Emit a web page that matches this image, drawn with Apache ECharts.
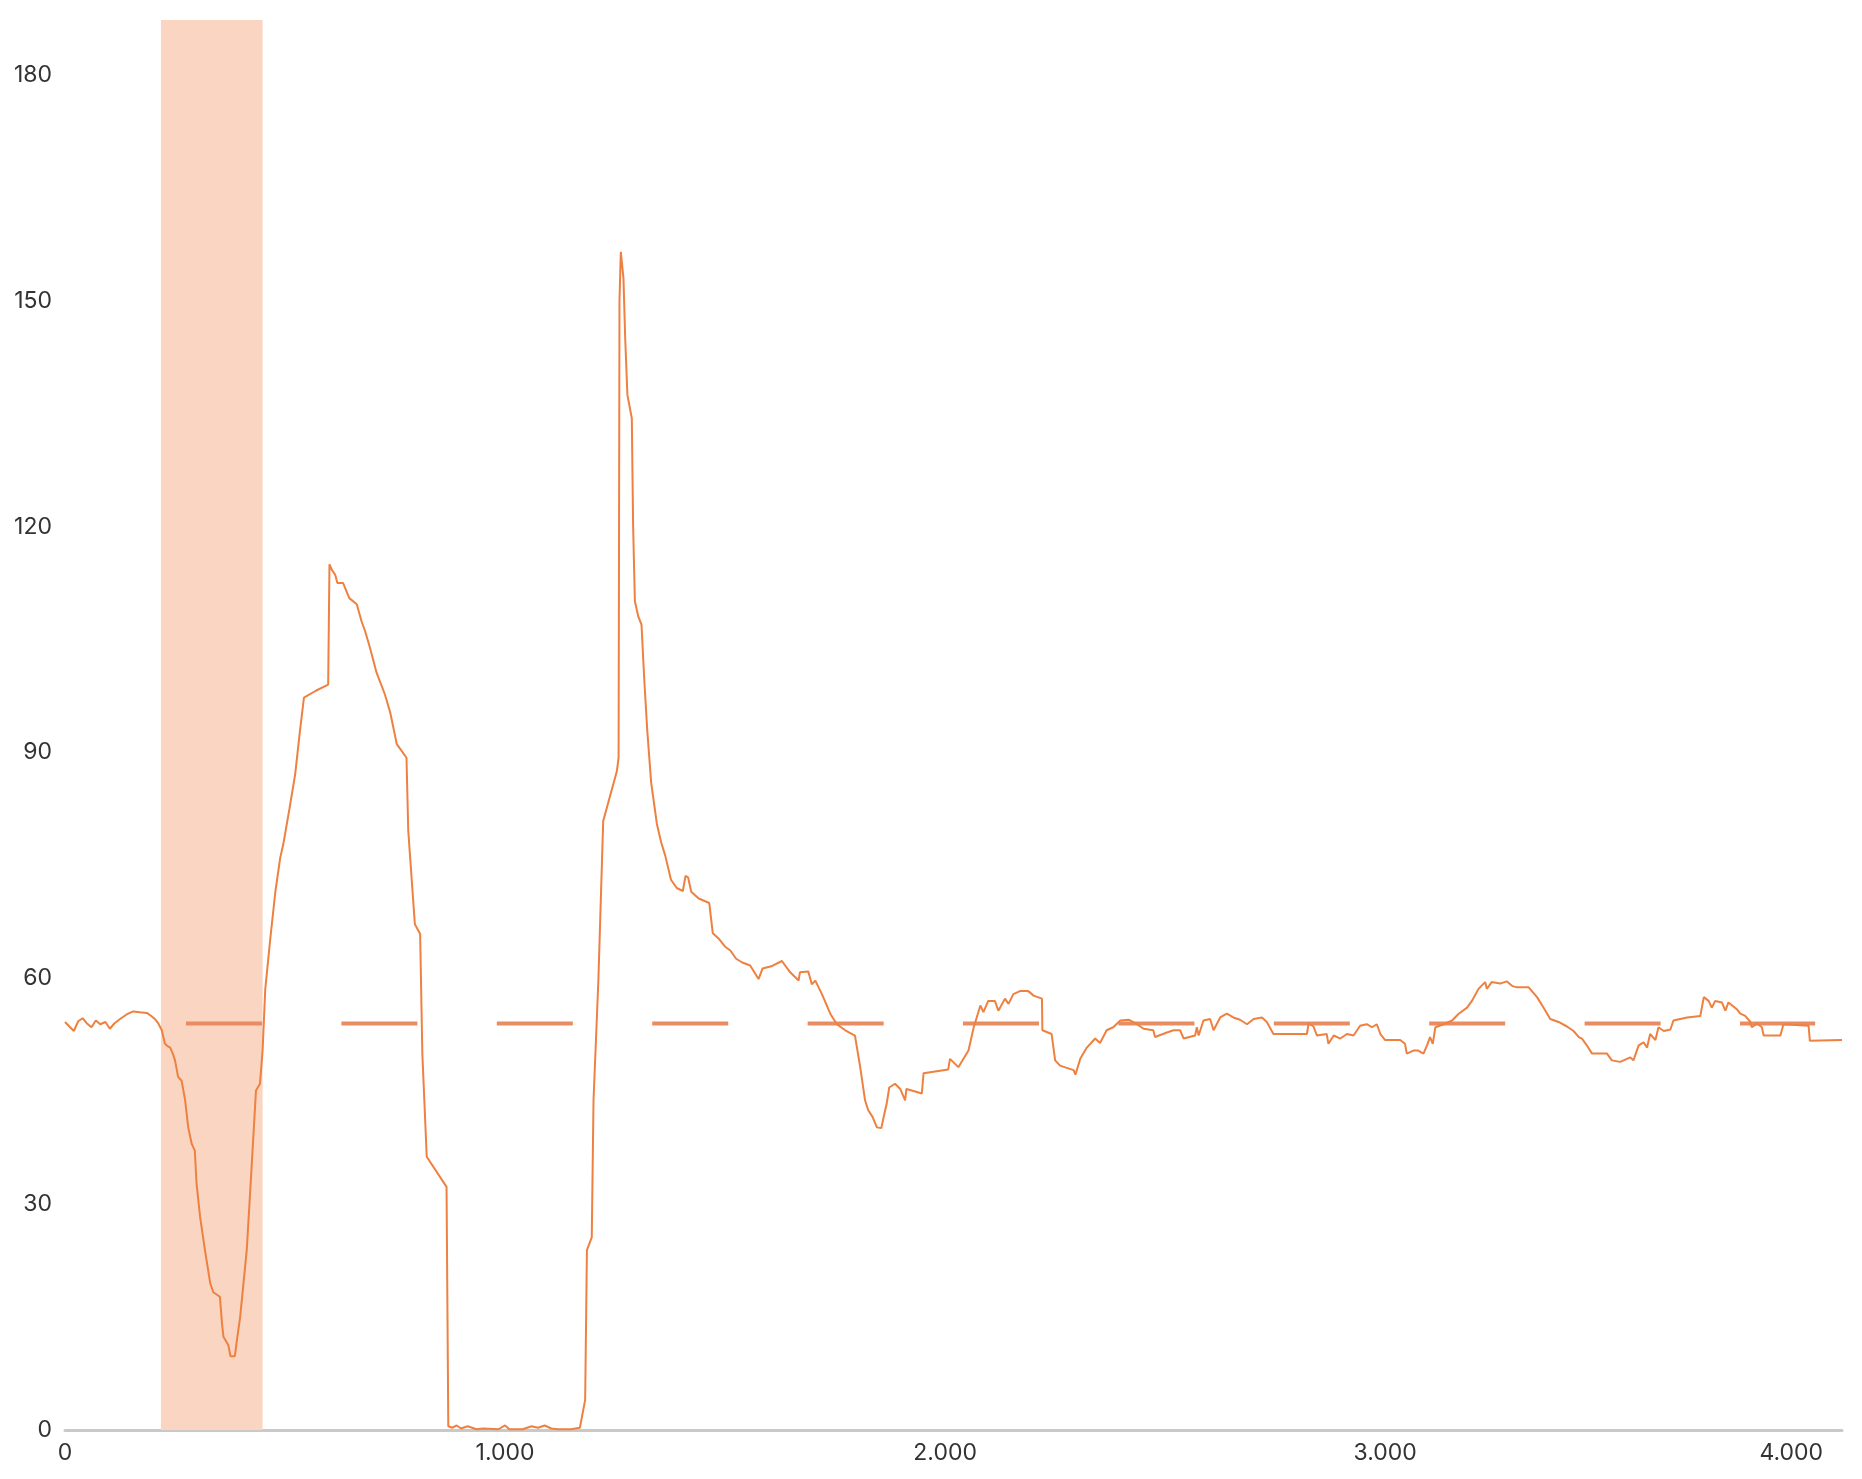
<!DOCTYPE html>
<html>
<head>
<meta charset="utf-8">
<script src="https://cdn.jsdelivr.net/npm/echarts@6/dist/echarts.min.js"></script>
<style>
  html, body { margin: 0; padding: 0; background: #ffffff; }
  #chart { width: 1862px; height: 1479px; }
</style>
</head>
<body>
<div id="chart"></div>
<script>
// ---- data ----
const timeValues = [
  0,10,20,30,40,50,60,70,80,92,102,112,125,140,155,170,186,196,204,212,220,227,233,239,245,250,257,265,273,280,288,295,299,307,318,330,337,352,357,360,371,376,386,392,398,413,424,434,443,449,455,466,478,489,496,510,523,534,543,570,598,601,607,614,619,632,646,663,674,682,693,708,727,739,754,776,780,795,807,812,822,867,871,880,890,900,915,935,950,985,1000,1010,1040,1060,1075,1090,1105,1120,1150,1170,1182,1186,1197,1201,1212,1223,1254,1258,1260,1263,1269,1273,1278,1288,1291,1295,1303,1310,1316,1323,1332,1345,1355,1364,1377,1390,1404,1410,1416,1423,1440,1464,1472,1485,1500,1512,1525,1539,1557,1576,1585,1605,1629,1648,1667,1670,1689,1697,1705,1720,1739,1754,1773,1795,1807,1818,1825,1835,1845,1855,1860,1867,1873,1886,1898,1909,1912,1930,1947,1951,2007,2011,2030,2053,2065,2080,2087,2098,2113,2121,2136,2144,2155,2170,2189,2201,2220,2221,2242,2250,2261,2292,2296,2307,2322,2341,2352,2367,2382,2398,2417,2436,2451,2473,2477,2504,2519,2534,2542,2568,2572,2576,2587,2602,2610,2625,2640,2655,2670,2686,2701,2720,2731,2746,2822,2826,2837,2845,2867,2871,2883,2898,2913,2928,2943,2958,2970,2981,2989,3000,3034,3045,3049,3064,3075,3087,3095,3102,3108,3114,3133,3152,3167,3186,3197,3212,3227,3231,3242,3261,3276,3288,3299,3326,3345,3360,3375,3394,3413,3428,3440,3447,3458,3470,3504,3515,3534,3557,3564,3576,3587,3595,3602,3614,3621,3633,3648,3655,3686,3716,3724,3735,3742,3750,3765,3773,3780,3799,3807,3818,3830,3833,3845,3856,3860,3898,3905,3962,3965,4038
];
const speedValues = [
  54.2,53.6,53.0,54.3,54.7,54.0,53.5,54.4,53.9,54.2,53.3,54.0,54.6,55.2,55.6,55.5,55.4,55.0,54.6,54.0,53.1,51.3,51.0,50.8,50.0,49.1,46.9,46.4,43.8,40.2,38.0,37.1,32.7,28.3,23.9,19.5,18.3,17.7,14.0,12.4,11.3,9.8,9.8,12.5,15.0,23.9,34.9,45.1,46.0,50.4,58.5,65.0,71.5,76.0,77.8,82.5,87.1,92.9,97.3,98.2,99.0,115.0,114.2,113.6,112.5,112.5,110.5,109.7,107.4,106.1,103.9,100.6,97.7,95.3,91.1,89.3,79.6,67.2,65.9,50.0,36.3,32.3,0.5,0.3,0.6,0.2,0.5,0.1,0.2,0.1,0.6,0.1,0.1,0.5,0.3,0.6,0.2,0.1,0.1,0.3,4.0,23.9,25.6,43.8,59.7,80.9,87.5,89.3,150.0,156.5,153.0,145.0,137.5,134.4,120.0,110.1,108.0,107.0,100.0,93.0,86.0,80.5,78.0,76.3,73.1,72.0,71.6,73.6,73.4,71.5,70.6,70.0,66.0,65.3,64.2,63.7,62.6,62.1,61.7,59.9,61.3,61.6,62.3,60.8,59.7,60.8,60.9,59.2,59.7,57.9,55.3,53.9,53.1,52.4,48.2,43.8,42.5,41.6,40.2,40.1,41.5,43.3,45.5,46.0,45.3,43.8,45.3,45.0,44.7,47.4,47.9,49.3,48.2,50.4,53.5,56.4,55.5,57.0,57.0,55.7,57.3,56.6,57.9,58.3,58.3,57.7,57.3,53.1,52.6,49.1,48.4,47.8,47.2,49.3,50.8,52.0,51.4,53.1,53.5,54.4,54.5,53.9,53.3,53.1,52.2,52.8,53.1,53.1,52.0,52.4,53.5,52.4,54.4,54.6,53.1,54.8,55.3,54.8,54.5,53.9,54.6,54.8,54.2,52.6,52.6,54.0,53.6,52.4,52.6,51.3,52.4,52.0,52.6,52.4,53.7,53.9,53.5,53.9,52.6,51.8,51.8,51.3,50.0,50.4,50.4,50.0,51.1,52.2,51.3,53.5,53.9,54.4,55.3,56.1,57.0,58.6,59.5,58.6,59.5,59.3,59.6,59.0,58.8,58.8,57.5,56.1,54.6,54.2,53.6,53.0,52.2,52.0,51.1,50.0,50.0,49.1,48.9,49.5,49.1,51.1,51.5,50.8,52.6,51.8,53.5,53.0,53.2,54.4,54.8,55.0,57.5,57.0,56.1,57.0,56.8,55.7,56.8,55.9,55.3,55.0,54.2,53.5,54.0,53.5,52.4,52.4,53.9,53.7,51.7,51.8
];
const referenceLine = { from: 275, to: 3977, value: 54 };
const highlightBand = [218, 449];
const xTicks = [0, 1000, 2000, 3000, 4000];
const yTicks = [0, 30, 60, 90, 120, 150, 180];
const xMax = 4038;
const yMax = 187.3;

// ---- chart ----
const seriesData = timeValues.map((t, i) => [t, speedValues[i]]);
const fmtThousands = v => {
  const s = String(Math.round(v));
  return s.replace(/\B(?=(\d{3})+(?!\d))/g, '.');
};

const chart = echarts.init(document.getElementById('chart'), null, { renderer: 'canvas' });
chart.setOption({
  animation: false,
  backgroundColor: '#ffffff',
  grid: { left: 65, right: 20, top: 20, bottom: 49, containLabel: false },
  xAxis: {
    type: 'value',
    min: 0,
    max: xMax,
    interval: 1000,
    axisLine: { show: true, lineStyle: { color: '#c9c9c9', width: 3 } },
    axisTick: { show: false },
    splitLine: { show: false },
    axisLabel: {
      margin: 12,
      fontFamily: 'Inter',
      fontSize: 23,
      color: '#333333',
      showMaxLabel: true,
      formatter: v => {
        if (xTicks.indexOf(v) < 0) return '';
        if (v === xTicks[xTicks.length - 1]) return '{r|' + fmtThousands(v) + '}';
        return fmtThousands(v);
      },
      rich: {
        r: { fontFamily: 'Inter', fontSize: 23, color: '#333333', padding: [0, 68, 0, 0] }
      }
    }
  },
  yAxis: {
    type: 'value',
    min: 0,
    max: yMax,
    interval: 30,
    axisLine: { show: false },
    axisTick: { show: false },
    splitLine: { show: false },
    axisLabel: {
      margin: 13,
      fontFamily: 'Inter',
      fontSize: 23,
      color: '#333333',
      formatter: v => (yTicks.indexOf(v) >= 0 ? String(v) : '')
    }
  },
  series: [
    {
      type: 'line',
      z: 2,
      silent: true,
      showSymbol: false,
      data: [[referenceLine.from, referenceLine.value], [referenceLine.to, referenceLine.value]],
      lineStyle: { color: '#E98C62', width: 4, type: [76, 79.4], cap: 'butt' }
    },
    {
      type: 'line',
      z: 3,
      silent: true,
      showSymbol: false,
      smooth: false,
      data: seriesData,
      lineStyle: { color: '#EE8040', width: 2 },
      markArea: {
        silent: true,
        itemStyle: { color: '#FAD5C1', opacity: 1 },
        data: [[{ xAxis: highlightBand[0] }, { xAxis: highlightBand[1] }]]
      }
    }
  ]
});
</script>
</body>
</html>
